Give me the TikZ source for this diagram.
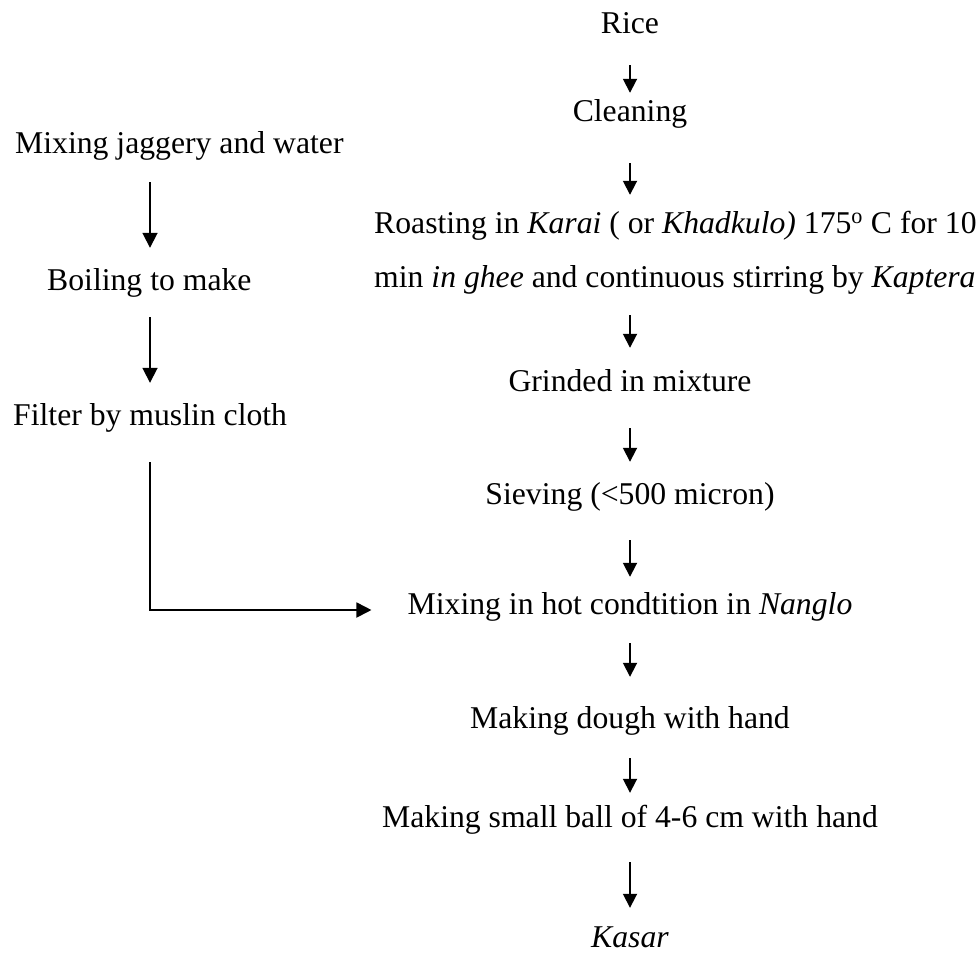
\documentclass[tikz,border=0pt]{standalone}
\usepackage{fontspec}
\setmainfont{Liberation Serif}
\usetikzlibrary{arrows.meta}
\begin{document}
\begin{tikzpicture}[x=1pt,y=-1pt,
  lbl/.style={inner sep=0pt, text height=22pt, text depth=7pt, anchor=base, font=\fontsize{31.7}{38}\selectfont},
  lblw/.style={lbl, anchor=base west},
  flow/.style={line width=1.8pt, -{Triangle[width=14pt,length=14pt]}},
  flowl/.style={line width=1.8pt, -{Triangle[width=15pt,length=15pt]}}]
\useasboundingbox (0,0) rectangle (976,953);
% main column
\node[lbl] (rice) at (630,33) {Rice};
\node[lbl] (clean) at (630,121) {Cleaning};
\node[lblw] (roast1) at (374,233) {Roasting in \textit{Karai} ( or \textit{Khadkulo)} 175\textsuperscript{o} C for 10};
\node[lblw] (roast2) at (374,287) {min \textit{in ghee} and continuous stirring by \textit{Kaptera}};
\node[lbl] (grind) at (630,391) {Grinded in mixture};
\node[lbl] (sieve) at (630,504) {Sieving (<500 micron)};
\node[lbl] (mixhot) at (630,614) {Mixing in hot condtition in \textit{Nanglo}};
\node[lbl] (dough) at (630,728) {Making dough with hand};
\node[lbl] (ball) at (630,827) {Making small ball of 4-6 cm with hand};
\node[lbl] (kasar) at (630,947) {\textit{Kasar}};
% left column
\node[lblw] (jag) at (15,153) {Mixing jaggery and water};
\node[lblw] (boil) at (47,290) {Boiling to make};
\node[lblw] (filter) at (13,425) {Filter by muslin cloth};
% main arrows
\draw[flow, shorten <=25pt, shorten >=6pt] (rice.south) -- (clean.north);
\draw[flow, shorten <=35pt, shorten >=16pt] (clean.south) -- (clean.south |- roast1.north);
\draw[flow, shorten <=21pt, shorten >=21pt] (clean.south |- roast2.south) -- (grind.north);
\draw[flow, shorten <=30pt, shorten >=20pt] (grind.south) -- (sieve.north);
\draw[flow, shorten <=29pt, shorten >=15pt] (sieve.south) -- (mixhot.north);
\draw[flow, shorten <=22pt, shorten >=29pt] (mixhot.south) -- (dough.north);
\draw[flow, shorten <=23pt, shorten >=12pt] (dough.south) -- (ball.north);
\draw[flow, shorten <=28pt, shorten >=17pt] (ball.south) -- (kasar.north);
% left arrows
\draw[flowl, shorten <=22pt, shorten >=20pt] (150,0 |- jag.south) -- (150,0 |- boil.north);
\draw[flowl, shorten <=20pt, shorten >=20pt] (150,0 |- boil.south) -- (150,0 |- filter.north);
\draw[flowl, shorten <=30pt, shorten >=36pt] (150,0 |- filter.south) |- ([yshift=-3.5pt]mixhot.west);
\end{tikzpicture}
\end{document}
